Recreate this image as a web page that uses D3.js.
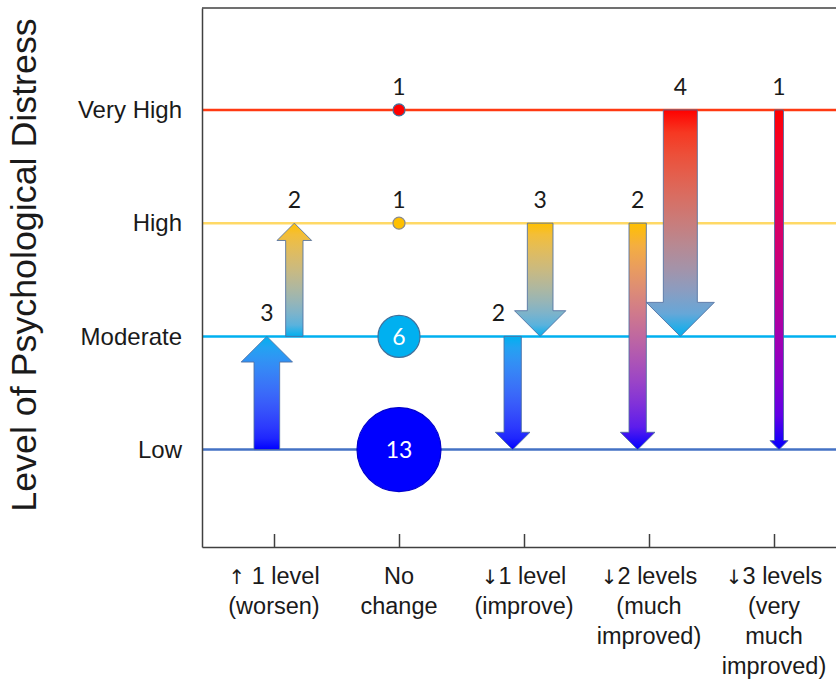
<!DOCTYPE html>
<html>
<head>
<meta charset="utf-8">
<script src="https://cdn.jsdelivr.net/npm/d3@7"></script>
<style>
  html, body { margin: 0; padding: 0; background: #ffffff; }
  svg { display: block; }
</style>
</head>
<body>
<script>
// ---------------- data ----------------
const levels = ["Low", "Moderate", "High", "Very High"];
const categoryLabels = [
  ["↑ 1 level", "(worsen)"],
  ["No", "change"],
  ["↓1 level", "(improve)"],
  ["↓2 levels", "(much", "improved)"],
  ["↓3 levels", "(very", "much", "improved)"]
];
const yTitle = "Level of Psychological Distress";

// "No change" category: participants staying at a level
const stayCategory = 1;
const stayLevel = [3, 2, 1, 0];
const stayCount = [1, 1, 6, 13];

// transitions (level index: 0 = Low ... 3 = Very High)
const moveCategory = [0, 0, 2, 2, 3, 3, 4];
const moveFrom     = [0, 1, 1, 2, 2, 3, 3];
const moveTo       = [1, 2, 0, 1, 0, 1, 0];
const moveCount    = [3, 2, 2, 3, 2, 4, 1];

// ---------------- styles ----------------
const W = 836, H = 683;
const markColor = ["#0000ff", "#00b0f0", "#ffc000", "#ff0000"];
const lineColor = ["#4472c4", "#00b0f0", "#ffd966", "#ff3a12"];
const frameColor = "#404040";
const textColor = "#1a1a1a";

const svg = d3.select("body").append("svg").attr("width", W).attr("height", H);
const defs = svg.append("defs");

const x = d3.scaleLinear().domain([-0.576, 4.7]).range([202, 202 + 125 * 5.276]);
const y = d3.scaleLinear().domain([-0.86, 3.9]).range([547, 8]);
const shaftW = d3.scaleLinear().domain([1, 4]).range([9, 34]);
const radius = d3.scaleLinear().domain([1, 13]).range([6, 42]);

const [x0, x1] = x.range();
const [yB, yT] = y.range();

// level lines
svg.append("g").selectAll("line").data(levels).join("line")
  .attr("x1", x0).attr("x2", x1)
  .attr("y1", (d, i) => y(i)).attr("y2", (d, i) => y(i))
  .attr("stroke", (d, i) => lineColor[i])
  .attr("stroke-width", 2.5);

// frame: top line
svg.append("line").attr("x1", x0).attr("x2", x1).attr("y1", yT).attr("y2", yT)
  .attr("stroke", frameColor).attr("stroke-width", 1.5);

// left axis with level labels
const gy = svg.append("g").attr("transform", `translate(${x0},0)`)
  .call(d3.axisLeft(y).tickValues(d3.range(levels.length)).tickSize(0).tickSizeOuter(0)
    .tickPadding(20).tickFormat(i => levels[i]));
gy.select(".domain").attr("stroke", frameColor).attr("stroke-width", 1.5);
gy.selectAll("text").attr("font-family", "'Liberation Sans', Arial, sans-serif")
  .attr("font-size", 24).attr("fill", textColor);

// bottom axis with inner ticks
const gx = svg.append("g").attr("transform", `translate(0,${yB})`)
  .call(d3.axisBottom(x).tickValues(d3.range(categoryLabels.length))
    .tickSizeInner(-13).tickSizeOuter(0).tickFormat(""));
gx.select(".domain").attr("stroke", frameColor).attr("stroke-width", 1.5);
gx.selectAll(".tick line").attr("stroke", frameColor).attr("stroke-width", 1.5);

// category labels (arrow glyphs drawn with a font that has them)
const arrowChars = /^([↑↓])(.*)$/;
const cl = svg.append("g").selectAll("text").data(categoryLabels).join("text")
  .attr("x", (d, i) => x(i)).attr("y", yB + 37)
  .attr("text-anchor", "middle")
  .attr("font-family", "'Liberation Sans', Arial, sans-serif")
  .attr("font-size", 23.5).attr("fill", textColor);
cl.each(function(lines, i) {
  const t = d3.select(this);
  lines.forEach((line, k) => {
    const m = line.match(arrowChars);
    const first = t.append("tspan").attr("x", x(i)).attr("dy", k === 0 ? 0 : 30);
    if (m) {
      first.attr("font-family", "'DejaVu Sans', sans-serif").attr("font-size", 20)
        .attr("fill", textColor).text(m[1]);
      t.append("tspan").text(m[2]);
    } else {
      first.text(line);
    }
  });
});

// y title
svg.append("text")
  .attr("transform", `translate(36,265) rotate(-90)`)
  .attr("text-anchor", "middle")
  .attr("font-family", "'Liberation Sans', Arial, sans-serif")
  .attr("font-size", 35.8).attr("fill", textColor)
  .text(yTitle);

// ---------------- arrows layout ----------------
const arrows = moveCategory.map((c, i) => {
  const w = shaftW(moveCount[i]);
  const ys = y(moveFrom[i]), ye = y(moveTo[i]);
  return { i, c, w, ys, ye, top: Math.min(ys, ye), bot: Math.max(ys, ye),
           headTop: ye < ys ? ye : ye - w, headBot: ye < ys ? ye + w : ye,
           count: moveCount[i], from: moveFrom[i], to: moveTo[i] };
});
const overlap = (a0, a1, b0, b1) => Math.max(a0, b0) < Math.min(a1, b1);
d3.groups(arrows, d => d.c).forEach(([c, group]) => {
  if (group.length === 1) { group[0].cx = x(c) + 5; return; }
  let cursor = x(c) - 20, prev = null;
  group.forEach(a => {
    if (prev) {
      let gap = 6;
      if (overlap(a.headTop, a.headBot, prev.top, prev.bot)) gap = Math.max(gap, a.w / 2);
      if (overlap(prev.headTop, prev.headBot, a.top, a.bot)) gap = Math.max(gap, prev.w / 2);
      cursor += gap;
    }
    a.cx = cursor + a.w / 2;
    cursor += a.w;
    prev = a;
  });
});

function arrowPath(a) {
  const dir = Math.sign(a.ye - a.ys);
  const hb = a.ye - dir * a.w;
  const p = [
    [a.cx - a.w / 2, a.ys], [a.cx + a.w / 2, a.ys], [a.cx + a.w / 2, hb],
    [a.cx + a.w, hb], [a.cx, a.ye], [a.cx - a.w, hb], [a.cx - a.w / 2, hb]
  ];
  return d3.line()(p) + "Z";
}

arrows.forEach(a => {
  const g = defs.append("linearGradient").attr("id", "grad" + a.i)
    .attr("gradientUnits", "userSpaceOnUse")
    .attr("x1", a.cx).attr("x2", a.cx).attr("y1", a.top).attr("y2", a.bot);
  const interp = d3.interpolateLab(markColor[Math.max(a.from, a.to)], markColor[Math.min(a.from, a.to)]);
  d3.range(0, 1.0001, 0.1).forEach(t => {
    g.append("stop").attr("offset", t).attr("stop-color", interp(t));
  });
});

svg.append("g").selectAll("path").data(arrows).join("path")
  .attr("d", arrowPath)
  .attr("fill", d => `url(#grad${d.i})`)
  .attr("stroke", "#4f6fa0").attr("stroke-opacity", 0.85).attr("stroke-width", 1);

// arrow count labels
const bbox = a => [a.cx - a.w, a.cx + a.w, a.top, a.bot];
svg.append("g").selectAll("text").data(arrows).join("text")
  .each(function(a) {
    const base = a.top - 15;
    let lx = a.cx, anchor = "middle";
    const hit = arrows.some(b => b !== a && b.c === a.c &&
      overlap(a.cx - 7, a.cx + 7, bbox(b)[0], bbox(b)[1]) &&
      overlap(base - 17, base, bbox(b)[2], bbox(b)[3]));
    if (hit) { lx = a.cx - a.w / 2 + 1; anchor = "end"; }
    d3.select(this).attr("x", lx).attr("y", base).attr("text-anchor", anchor);
  })
  .attr("font-family", "Lato, 'Open Sans', sans-serif")
  .attr("font-size", 23).attr("fill", textColor)
  .text(d => d.count);

// ---------------- no-change dots ----------------
const dots = stayLevel.map((lv, i) => ({ lv, n: stayCount[i], r: radius(stayCount[i]) }));
const gd = svg.append("g");
gd.selectAll("circle").data(dots).join("circle")
  .attr("cx", x(stayCategory)).attr("cy", d => y(d.lv)).attr("r", d => d.r)
  .attr("fill", d => markColor[d.lv])
  .attr("stroke", d => d.lv === 0 ? "#0000cc" : d.lv === 2 ? "#8a8a8a" : "#41719c")
  .attr("stroke-width", 1.2);
gd.selectAll("text").data(dots).join("text")
  .attr("x", x(stayCategory))
  .attr("y", d => d.r > 15 ? y(d.lv) : y(d.lv) - d.r - 9)
  .attr("dy", d => d.r > 15 ? "0.36em" : 0)
  .attr("text-anchor", "middle")
  .attr("font-family", "Lato, 'Open Sans', sans-serif")
  .attr("font-size", 23)
  .attr("fill", d => d.r > 15 ? "#ffffff" : textColor)
  .text(d => d.n);
</script>
</body>
</html>
